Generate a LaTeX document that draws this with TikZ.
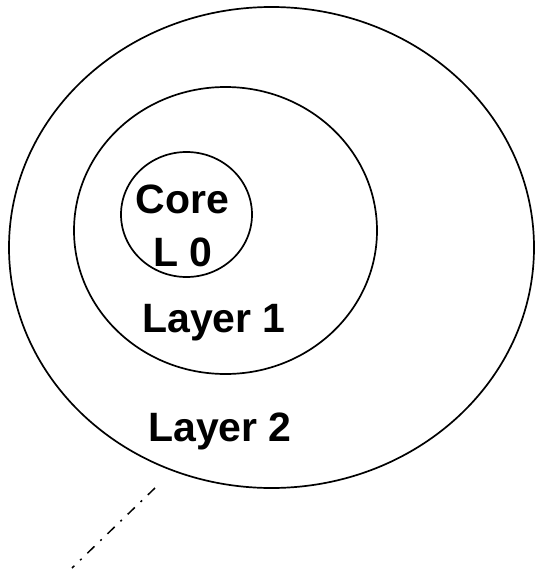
\documentclass[tikz,border=0pt]{standalone}
\usepackage{fontspec}
\setmainfont{Liberation Sans}
\usetikzlibrary{shapes.geometric}
\tikzset{
  ring/.style={draw=black, line width=1.7pt, ellipse, inner sep=0pt},
  lbl/.style={font=\bfseries\fontsize{41}{45}\selectfont, anchor=base, inner sep=0pt},
  leader/.style={draw=black, line width=1.5pt, dash pattern=on 10pt off 8pt on 2pt off 8pt}
}
\begin{document}
\begin{tikzpicture}[x=1pt,y=1pt]
\useasboundingbox (0,0) rectangle (535,-570);
\node[ring, minimum width=525pt, minimum height=481pt] (outer) at (271.5,-247.5) {};
\node[ring, minimum width=303pt, minimum height=287pt] (middle) at (225.5,-230.5) {};
\node[ring, minimum width=131pt, minimum height=125pt] (core) at (186.5,-214.5) {};
\node[lbl] (corelbl) at (182.5,-213) {Core};
\node[lbl] (l0lbl) at (183,-266) {L 0};
\node[lbl] (l1lbl) at (214,-332) {Layer 1};
\node[lbl] (l2lbl) at (220,-441) {Layer 2};
\coordinate (a) at (155,-488);
\coordinate (b) at (72,-568);
\draw[leader] (a) -- (b);
\end{tikzpicture}
\end{document}
